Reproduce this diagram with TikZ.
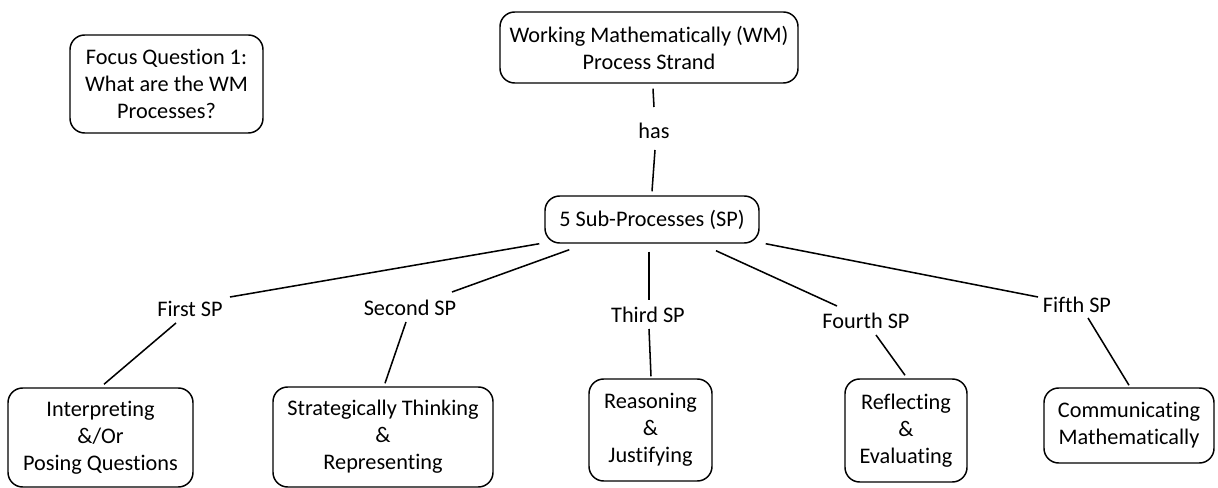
\documentclass[tikz,border=0pt]{standalone}
\usepackage{fontspec}
\setmainfont{Carlito}[Ligatures=NoCommon]
\usetikzlibrary{calc}
\tikzset{
  cbox/.style={draw, rounded corners=11pt, line width=1.1pt, align=center, inner sep=0pt},
  lbl/.style={inner sep=0pt, align=center},
  link/.style={line width=1.15pt}
}
\begin{document}
\begin{tikzpicture}[x=0.75pt, y=-0.75pt, font=\fontsize{16.7}{20.3}\selectfont]
\useasboundingbox (0,0) rectangle (1218,488);
% boxes
\node[cbox, minimum width=193*0.75pt, minimum height=98*0.75pt] (fq) at (166.5,84) {Focus Question 1:\\What are the WM\\Processes?};
\node[cbox, minimum width=298*0.75pt, minimum height=71*0.75pt] (wm) at (649,47.5) {Working Mathematically (WM)\\Process Strand};
\node[lbl] (has) at (654,131) {has};
\node[cbox, minimum width=214*0.75pt, minimum height=47*0.75pt] (sp) at (652,219.5) {5 Sub-Processes (SP)};
% labels
\node[lbl] (l1) at (190,309) {First SP};
\node[lbl] (l2) at (410,308) {Second SP};
\node[lbl] (l3) at (648,315) {Third SP};
\node[lbl] (l4) at (866,321) {Fourth SP};
\node[lbl] (l5) at (1077,305) {Fifth SP};
% bottom boxes
\node[cbox, minimum width=185*0.75pt, minimum height=99*0.75pt] (b1) at (100.5,437.5) {Interpreting\\\&/Or\\Posing Questions};
\node[cbox, minimum width=220*0.75pt, minimum height=100*0.75pt] (b2) at (383,437) {Strategically Thinking\\\&\\Representing};
\node[cbox, minimum width=123*0.75pt, minimum height=102*0.75pt] (b3) at (650.5,430) {Reasoning\\\&\\Justifying};
\node[cbox, minimum width=122*0.75pt, minimum height=103*0.75pt] (b4) at (906,430.5) {Reflecting\\\&\\Evaluating};
\node[cbox, minimum width=170*0.75pt, minimum height=75*0.75pt] (b5) at (1129,425.5) {Communicating\\Mathematically};
% connectors
\draw[link] ($(wm.south)+(4,5)$) -- ($(has)+(0,-24)$);
\draw[link] ($(has)+(1,19)$) -- ($(sp.north)+(0,-4)$);
\draw[link] ($(sp.south west)+(-5,0)$) -- ($(l1)+(40,-12)$);
\draw[link] ($(sp.south west)+(25,6)$) -- ($(l2)+(42,-16)$);
\draw[link] ($(sp.south)+(-3,8)$) -- ($(l3)+(1,-15)$);
\draw[link] ($(sp.south)+(64,7)$) -- ($(l4)+(-29,-15)$);
\draw[link] ($(sp.south east)+(6,0)$) -- ($(l5)+(-39,-8)$);
\draw[link] ($(l1)+(-14,14)$) -- ($(b1.north)+(3.5,-3)$);
\draw[link] ($(l2)+(-4,14)$) -- ($(b2.north)+(2,-3)$);
\draw[link] ($(l3)+(1,14)$) -- ($(b3.north)+(0.5,-2)$);
\draw[link] ($(l4)+(10,14)$) -- ($(b4.north)+(-1,-3)$);
\draw[link] ($(l5)+(11,13)$) -- ($(b5.north)+(0,-2)$);
\end{tikzpicture}
\end{document}
